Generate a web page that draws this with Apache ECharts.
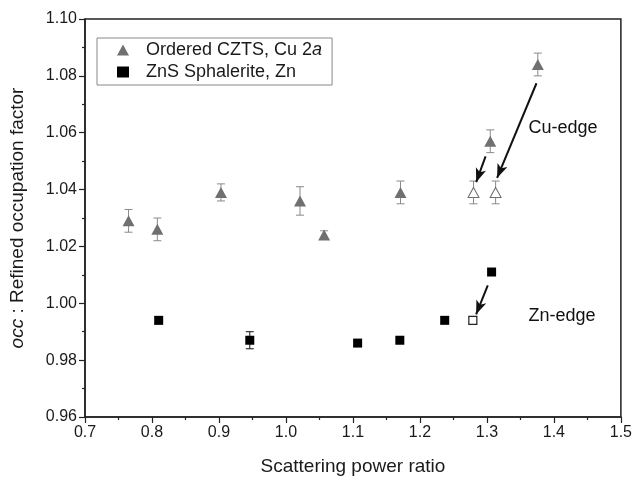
<!DOCTYPE html>
<html>
<head>
<meta charset="utf-8">
<script src="https://cdn.jsdelivr.net/npm/echarts@6/dist/echarts.min.js"></script>
<style>
  html, body { margin: 0; padding: 0; background: #fff; }
  #chart { width: 635px; height: 481px; }
</style>
</head>
<body>
<div id="chart"></div>
<script>
// Ordered CZTS, Cu 2a (filled grey triangles)
const cuX = [0.765, 0.808, 0.903, 1.021, 1.057, 1.171, 1.305, 1.376];
const cuY = [1.029, 1.026, 1.039, 1.036, 1.024, 1.039, 1.057, 1.084];
const cuErr = [0.004, 0.004, 0.003, 0.005, 0.0015, 0.004, 0.004, 0.004];
// Cu-edge points (open triangles)
const cuEdgeX = [1.280, 1.313];
const cuEdgeY = [1.039, 1.039];
const cuEdgeErr = [0.004, 0.004];
// ZnS Sphalerite, Zn (filled squares)
const znX = [0.810, 0.946, 1.107, 1.170, 1.237, 1.307];
const znY = [0.994, 0.987, 0.986, 0.987, 0.994, 1.011];
const znErr = [0.0012, 0.003, 0.001, 0.001, 0.001, 0.001];
// Zn-edge point (open square)
const znEdgeX = [1.279];
const znEdgeY = [0.994];
const znEdgeErr = [0.001];
// arrows [from, to]
const arrows = [
  [[1.374, 1.0774], [1.3152, 1.0441]],
  [[1.298, 1.0517], [1.284, 1.0426]],
  [[1.3013, 1.0063], [1.2839, 0.9961]]
];
// annotations
const notes = [
  { text: "Cu-edge", x: 1.362, y: 1.0618 },
  { text: "Zn-edge", x: 1.362, y: 0.9955 }
];

const cuName = "Ordered CZTS, Cu 2a";
const znName = "ZnS Sphalerite, Zn";
const FONT = "Liberation Sans";
const grey = "#707070";

function zip3(xs, ys, es) {
  return xs.map((x, i) => [x, ys[i], es[i]]);
}

// vertical error bar with caps
function errorBar(color) {
  return function (params, api) {
    const x = api.value(0), y = api.value(1), e = api.value(2);
    const hi = api.coord([x, y + e]);
    const lo = api.coord([x, y - e]);
    const w = 4;
    const st = { stroke: color, lineWidth: 1 };
    return {
      type: "group",
      children: [
        { type: "line", shape: { x1: hi[0], y1: hi[1], x2: lo[0], y2: lo[1] }, style: st },
        { type: "line", shape: { x1: hi[0] - w, y1: hi[1], x2: hi[0] + w, y2: hi[1] }, style: st },
        { type: "line", shape: { x1: lo[0] - w, y1: lo[1], x2: lo[0] + w, y2: lo[1] }, style: st }
      ]
    };
  };
}

const chart = echarts.init(document.getElementById("chart"));

const option = {
  backgroundColor: "#fff",
  animation: false,
  textStyle: { fontFamily: FONT },
  grid: {
    left: 85, right: 13, top: 19, bottom: 63,
    show: true, borderColor: "#222", borderWidth: 1.5, backgroundColor: "transparent"
  },
  legend: {
    left: 97, top: 38,
    orient: "vertical",
    data: [cuName, znName],
    itemWidth: 12, itemHeight: 11, itemGap: 2,
    padding: [2, 10, 3, 20],
    borderColor: "#888", borderWidth: 1,
    formatter: n => (n === cuName ? "Ordered CZTS, Cu 2{i|a}" : n),
    textStyle: {
      fontFamily: FONT, fontSize: 18, color: "#1a1a1a", padding: [0, 0, 0, 12], lineHeight: 20,
      rich: { i: { fontStyle: "italic", fontSize: 18, fontFamily: FONT, color: "#1a1a1a" } }
    }
  },
  xAxis: {
    type: "value", min: 0.7, max: 1.5, interval: 0.1,
    name: "Scattering power ratio", nameLocation: "middle", nameGap: 40,
    nameTextStyle: { fontFamily: FONT, fontSize: 19, color: "#1a1a1a" },
    axisLine: { onZero: false, lineStyle: { color: "#222", width: 1.5 } },
    axisTick: { length: 6, lineStyle: { color: "#222", width: 1.2 } },
    minorTick: { show: true, splitNumber: 2, length: 3, lineStyle: { color: "#222", width: 1.2 } },
    splitLine: { show: false },
    axisLabel: { fontFamily: FONT, fontSize: 16, color: "#1a1a1a", margin: 8, formatter: v => v.toFixed(1) }
  },
  yAxis: {
    type: "value", min: 0.96, max: 1.10, interval: 0.02,
    name: "{i|occ} : Refined occupation factor", nameLocation: "middle", nameGap: 58,
    nameTextStyle: {
      fontFamily: FONT, fontSize: 19, color: "#1a1a1a",
      rich: { i: { fontStyle: "italic", fontFamily: FONT, fontSize: 19, color: "#1a1a1a" } }
    },
    axisLine: { onZero: false, lineStyle: { color: "#222", width: 1.5 } },
    axisTick: { length: 6, lineStyle: { color: "#222", width: 1.2 } },
    minorTick: { show: true, splitNumber: 2, length: 3, lineStyle: { color: "#222", width: 1.2 } },
    splitLine: { show: false },
    axisLabel: { fontFamily: FONT, fontSize: 16, color: "#1a1a1a", margin: 8, formatter: v => v.toFixed(2) }
  },
  series: [
    {
      type: "custom", name: "cuErr", renderItem: errorBar("#8a8a8a"),
      data: zip3(cuX, cuY, cuErr).concat(zip3(cuEdgeX, cuEdgeY, cuEdgeErr)), z: 2
    },
    {
      type: "custom", name: "znErr", renderItem: errorBar("#111"),
      data: zip3(znX, znY, znErr).concat(zip3(znEdgeX, znEdgeY, znEdgeErr)), z: 2
    },
    {
      type: "scatter", name: cuName, symbol: "triangle", symbolSize: [12, 11],
      itemStyle: { color: grey, opacity: 1 },
      data: cuX.map((x, i) => [x, cuY[i]]), z: 3
    },
    {
      type: "scatter", name: "cuEdge", symbol: "triangle", symbolSize: [11, 10],
      itemStyle: { color: "#fff", borderColor: grey, borderWidth: 1, opacity: 1 },
      data: cuEdgeX.map((x, i) => [x, cuEdgeY[i]]), z: 3
    },
    {
      type: "scatter", name: znName, symbol: "rect", symbolSize: 9,
      itemStyle: { color: "#000", opacity: 1 },
      data: znX.map((x, i) => [x, znY[i]]), z: 3
    },
    {
      type: "scatter", name: "znEdge", symbol: "rect", symbolSize: 8,
      itemStyle: { color: "#fff", borderColor: "#222", borderWidth: 1.2, opacity: 1 },
      data: znEdgeX.map((x, i) => [x, znEdgeY[i]]), z: 3
    },
    {
      // text notes + arrows
      type: "scatter", name: "labels", symbolSize: 0, silent: true,
      itemStyle: { opacity: 1, color: "#000" },
      data: notes.map(n => ({ value: [n.x, n.y], name: n.text })),
      label: {
        show: true, position: "right", distance: 0, formatter: p => p.name,
        fontFamily: FONT, fontSize: 18, color: "#111"
      },
      markLine: {
        silent: true, animation: false,
        symbol: ["none", "arrow"], symbolSize: [8, 14],
        label: { show: false },
        lineStyle: { color: "#111", width: 2, type: "solid", opacity: 1 },
        data: arrows.map(a => [{ coord: a[0] }, { coord: a[1] }])
      }
    }
  ]
};

chart.setOption(option);
</script>
</body>
</html>
